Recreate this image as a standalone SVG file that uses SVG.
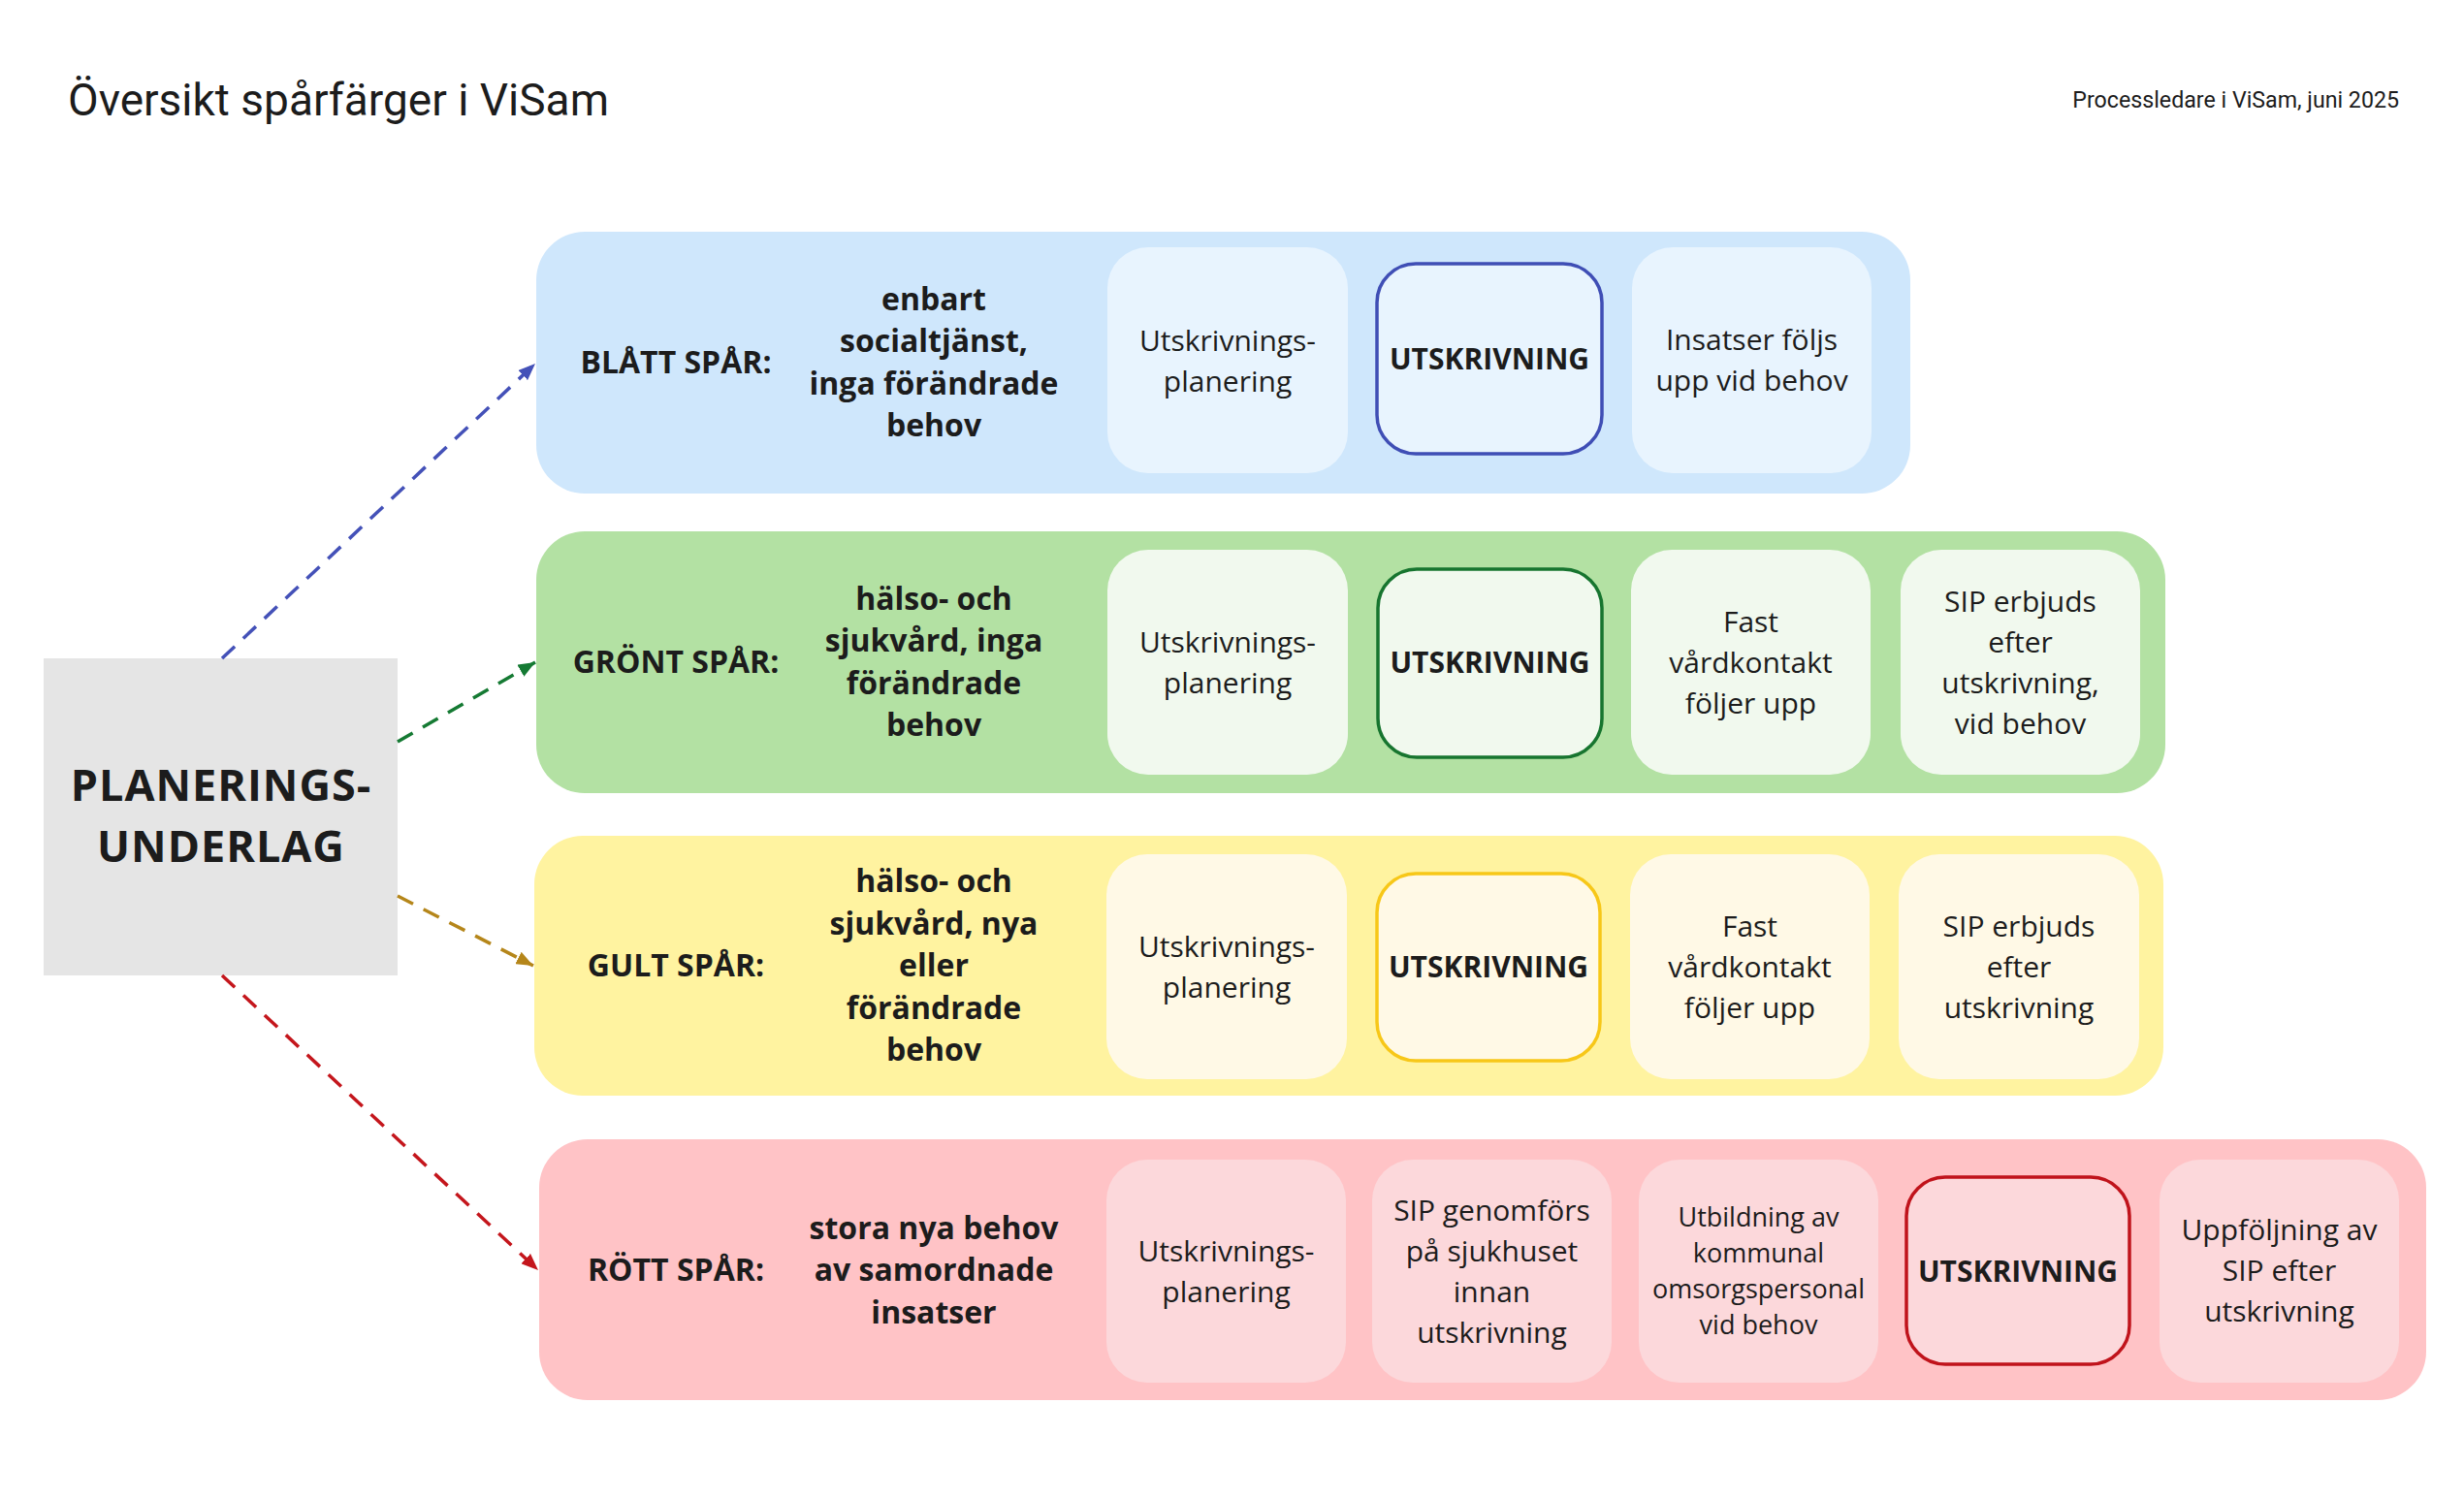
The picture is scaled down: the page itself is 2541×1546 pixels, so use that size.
<svg xmlns="http://www.w3.org/2000/svg" width="2541" height="1546" viewBox="0 0 2541 1546">
<defs>
<style>
text{font-family:"Open Sans","Liberation Sans",sans-serif;fill:#1c1c1c;text-anchor:middle}
.title{font-family:Roboto,"Liberation Sans",sans-serif;font-size:46px;text-anchor:start}
.sub{font-family:Roboto,"Liberation Sans",sans-serif;font-size:23.2px;text-anchor:end}
.lbl{font-size:32px;font-weight:700}
.desc{font-size:32px;font-weight:700}
.box{font-size:30px}
.sm{font-size:27px}
.ut{font-size:30px;font-weight:700}
.big{font-size:45px;font-weight:700;letter-spacing:1px}
.conn{fill:none;stroke-width:3.5;stroke-dasharray:18 12}
</style>
<marker id="aB" viewBox="0 0 10 8" refX="10" refY="4" markerWidth="5" markerHeight="4" orient="auto"><path d="M0,0 L10,4 L0,8 z" fill="#4451B8"/></marker>
<marker id="aG" viewBox="0 0 10 8" refX="10" refY="4" markerWidth="5" markerHeight="4" orient="auto"><path d="M0,0 L10,4 L0,8 z" fill="#157A33"/></marker>
<marker id="aY" viewBox="0 0 10 8" refX="10" refY="4" markerWidth="5" markerHeight="4" orient="auto"><path d="M0,0 L10,4 L0,8 z" fill="#B5861A"/></marker>
<marker id="aR" viewBox="0 0 10 8" refX="10" refY="4" markerWidth="5" markerHeight="4" orient="auto"><path d="M0,0 L10,4 L0,8 z" fill="#C4161C"/></marker>
</defs>
<rect width="2541" height="1546" fill="#ffffff"/>

<text class="title" x="70" y="119">Översikt spårfärger i ViSam</text>
<text class="sub" x="2474" y="111">Processledare i ViSam, juni 2025</text>

<g id="planeringsunderlag">
<rect x="45" y="679" width="365" height="327" fill="#E5E5E5"/>
<text class="big" x="228" y="826">PLANERINGS-</text>
<text class="big" x="228" y="889">UNDERLAG</text>
</g>

<!-- Blue track -->
<g id="blatt-spar">
<rect x="553" y="239" width="1417" height="270" rx="50" fill="#CFE7FC"/>
<text class="lbl" x="697" y="385">BLÅTT SPÅR:</text>
<text class="desc" x="963" y="320">enbart</text>
<text class="desc" x="963" y="363">socialtjänst,</text>
<text class="desc" x="963" y="407">inga förändrade</text>
<text class="desc" x="963" y="450">behov</text>
</g>
<g id="blatt-utskrivningsplanering">
<rect x="1142" y="255" width="248" height="233" rx="42" fill="#E8F4FE"/>
<text class="box" x="1266" y="362">Utskrivnings-</text>
<text class="box" x="1266" y="404">planering</text>
</g>
<g id="blatt-utskrivning">
<rect x="1420" y="272" width="232" height="196" rx="40" fill="#E8F4FE" stroke="#3F4EB5" stroke-width="3.5"/>
<text class="ut" x="1536" y="381">UTSKRIVNING</text>
</g>
<g id="blatt-insatser">
<rect x="1683" y="255" width="247" height="233" rx="42" fill="#E8F4FE"/>
<text class="box" x="1806.5" y="361">Insatser följs</text>
<text class="box" x="1806.5" y="403">upp vid behov</text>
</g>

<!-- Green track -->
<g id="gront-spar">
<rect x="553" y="548" width="1680" height="270" rx="50" fill="#B3E1A3"/>
<text class="lbl" x="697" y="694">GRÖNT SPÅR:</text>
<text class="desc" x="963" y="629">hälso- och</text>
<text class="desc" x="963" y="672">sjukvård, inga</text>
<text class="desc" x="963" y="716">förändrade</text>
<text class="desc" x="963" y="759">behov</text>
</g>
<g id="gront-utskrivningsplanering">
<rect x="1142" y="567" width="248" height="232" rx="42" fill="#F1F9EE"/>
<text class="box" x="1266" y="673">Utskrivnings-</text>
<text class="box" x="1266" y="715">planering</text>
</g>
<g id="gront-utskrivning">
<rect x="1421" y="587" width="231" height="194" rx="40" fill="#F1F9EE" stroke="#17752F" stroke-width="3.5"/>
<text class="ut" x="1536.5" y="694">UTSKRIVNING</text>
</g>
<g id="gront-fast-vardkontakt">
<rect x="1682" y="567" width="247" height="232" rx="42" fill="#F1F9EE"/>
<text class="box" x="1805.5" y="652">Fast</text>
<text class="box" x="1805.5" y="694">vårdkontakt</text>
<text class="box" x="1805.5" y="736">följer upp</text>
</g>
<g id="gront-sip">
<rect x="1960" y="567" width="247" height="232" rx="42" fill="#F1F9EE"/>
<text class="box" x="2083.5" y="631">SIP erbjuds</text>
<text class="box" x="2083.5" y="673">efter</text>
<text class="box" x="2083.5" y="715">utskrivning,</text>
<text class="box" x="2083.5" y="757">vid behov</text>
</g>

<!-- Yellow track -->
<g id="gult-spar">
<rect x="551" y="862" width="1680" height="268" rx="50" fill="#FFF3A0"/>
<text class="lbl" x="697" y="1007">GULT SPÅR:</text>
<text class="desc" x="963" y="920">hälso- och</text>
<text class="desc" x="963" y="963.5">sjukvård, nya</text>
<text class="desc" x="963" y="1007">eller</text>
<text class="desc" x="963" y="1050.5">förändrade</text>
<text class="desc" x="963" y="1094">behov</text>
</g>
<g id="gult-utskrivningsplanering">
<rect x="1141" y="881" width="248" height="232" rx="42" fill="#FFF9E6"/>
<text class="box" x="1265" y="987">Utskrivnings-</text>
<text class="box" x="1265" y="1029">planering</text>
</g>
<g id="gult-utskrivning">
<rect x="1420" y="901" width="230" height="193" rx="40" fill="#FFF9E6" stroke="#F7C718" stroke-width="3.5"/>
<text class="ut" x="1535" y="1008">UTSKRIVNING</text>
</g>
<g id="gult-fast-vardkontakt">
<rect x="1681" y="881" width="247" height="232" rx="42" fill="#FFF9E6"/>
<text class="box" x="1804.5" y="966">Fast</text>
<text class="box" x="1804.5" y="1008">vårdkontakt</text>
<text class="box" x="1804.5" y="1050">följer upp</text>
</g>
<g id="gult-sip">
<rect x="1958" y="881" width="248" height="232" rx="42" fill="#FFF9E6"/>
<text class="box" x="2082" y="966">SIP erbjuds</text>
<text class="box" x="2082" y="1008">efter</text>
<text class="box" x="2082" y="1050">utskrivning</text>
</g>

<!-- Red track -->
<g id="rott-spar">
<rect x="556" y="1175" width="1946" height="269" rx="50" fill="#FFC3C6"/>
<text class="lbl" x="697" y="1321">RÖTT SPÅR:</text>
<text class="desc" x="963" y="1277.5">stora nya behov</text>
<text class="desc" x="963" y="1321">av samordnade</text>
<text class="desc" x="963" y="1364.5">insatser</text>
</g>
<g id="rott-utskrivningsplanering">
<rect x="1141" y="1196" width="247" height="230" rx="42" fill="#FCD8DB"/>
<text class="box" x="1264.5" y="1301">Utskrivnings-</text>
<text class="box" x="1264.5" y="1343">planering</text>
</g>
<g id="rott-sip">
<rect x="1415" y="1196" width="247" height="230" rx="42" fill="#FCD8DB"/>
<text class="box" x="1538.5" y="1259">SIP genomförs</text>
<text class="box" x="1538.5" y="1301">på sjukhuset</text>
<text class="box" x="1538.5" y="1343">innan</text>
<text class="box" x="1538.5" y="1385">utskrivning</text>
</g>
<g id="rott-utbildning">
<rect x="1690" y="1196" width="247" height="230" rx="42" fill="#FCD8DB"/>
<text class="sm" x="1813.5" y="1265">Utbildning av</text>
<text class="sm" x="1813.5" y="1302">kommunal</text>
<text class="sm" x="1813.5" y="1339">omsorgspersonal</text>
<text class="sm" x="1813.5" y="1376">vid behov</text>
</g>
<g id="rott-utskrivning">
<rect x="1966" y="1214" width="230" height="193" rx="40" fill="#FCD8DB" stroke="#C0131B" stroke-width="3.5"/>
<text class="ut" x="2081" y="1322">UTSKRIVNING</text>
</g>
<g id="rott-uppfoljning">
<rect x="2227" y="1196" width="247" height="230" rx="42" fill="#FCD8DB"/>
<text class="box" x="2350.5" y="1279">Uppföljning av</text>
<text class="box" x="2350.5" y="1321">SIP efter</text>
<text class="box" x="2350.5" y="1363">utskrivning</text>
</g>

<g id="connectors">
<line class="conn" x1="229" y1="679" x2="552" y2="375" stroke="#4451B8" marker-end="url(#aB)"/>
<line class="conn" x1="410" y1="765" x2="552" y2="683" stroke="#157A33" marker-end="url(#aG)"/>
<line class="conn" x1="410" y1="924" x2="550" y2="996" stroke="#B5861A" marker-end="url(#aY)"/>
<line class="conn" x1="229" y1="1006" x2="555" y2="1310" stroke="#C4161C" marker-end="url(#aR)"/>
</g>
</svg>
